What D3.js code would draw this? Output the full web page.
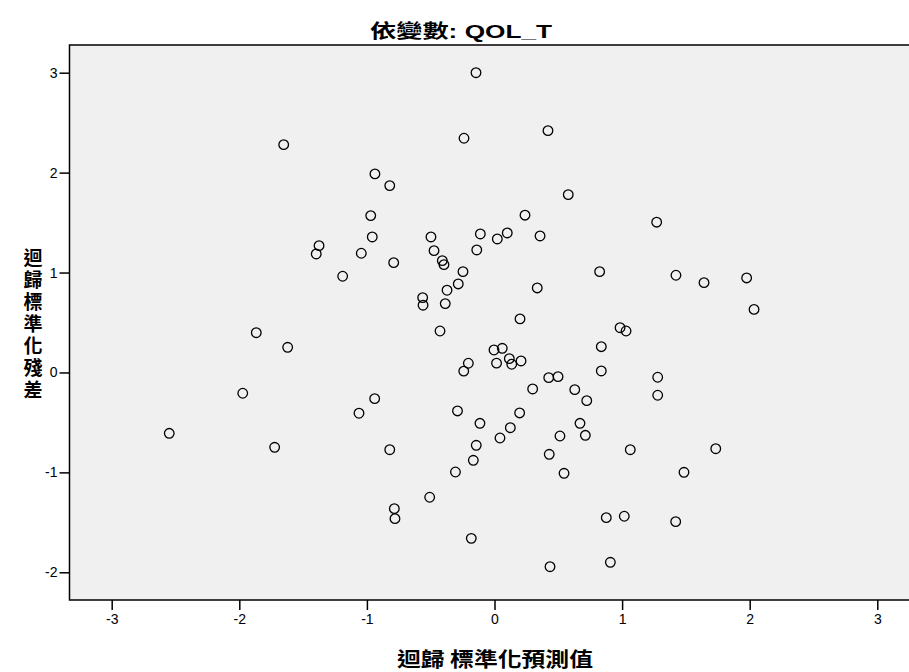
<!DOCTYPE html>
<meta charset="utf-8">
<style>

    body {
        margin: 0;
        background: #fff;
        font-family: "Liberation Sans", Arial, sans-serif;
    }

    .tick line {
        stroke: #000;
        stroke-width: 1.5px;
    }

    .title {
        font-family: "Liberation Sans", "Noto Sans CJK TC", sans-serif;
        font-weight: bold;
        font-size: 19px;
    }

    .axis-title {
        font-family: "Noto Sans CJK TC", serif;
        font-weight: bold;
    }

</style>
<body>
<div id="plotarea"></div>

<script src="https://cdn.jsdelivr.net/npm/d3@7"></script>
<script>

    // regression standardized predicted value
    var predicted = [
        -0.145, -1.652, -0.239, -0.937, -0.821, -0.970, -0.958, -1.375, -1.397, -1.044,
        -1.190, -0.790, -0.498, -0.474, -0.409, -0.396, -0.247, -0.284, -0.372, -0.563,
        -0.560, -0.386, -0.111, -0.139, 0.022, 0.419, 0.578, 0.239, 0.100, 0.357,
        0.824, 0.335, 1.271, 1.422, 1.642, 1.976, 2.034, 0.200, -1.867, -1.621,
        -0.427, -0.004, -0.205, -0.241, 0.016, -1.973, -0.939, -1.062, -0.290, -0.114,
        0.043, -2.549, -1.723, -0.821, -0.143, -0.166, -0.306, -0.508, -0.785, -0.780,
        -0.182, 0.061, 0.116, 0.135, 0.208, 0.984, 1.031, 0.837, 0.837, 1.279,
        1.279, 0.299, 0.425, 0.498, 0.629, 0.723, 0.197, 0.124, 0.670, 0.712,
        0.513, 0.429, 0.545, 1.064, 1.734, 1.485, 0.876, 1.017, 1.420, 0.435,
        0.908
    ];

    // regression standardized residual
    var residual = [
        3.000, 2.280, 2.344, 1.987, 1.870, 1.570, 1.356, 1.269, 1.186, 1.193,
        0.963, 1.099, 1.356, 1.219, 1.119, 1.079, 1.009, 0.886, 0.823, 0.749,
        0.673, 0.689, 1.386, 1.226, 1.336, 2.420, 1.780, 1.574, 1.396, 1.366,
        1.009, 0.846, 1.504, 0.973, 0.899, 0.946, 0.631, 0.536, 0.398, 0.252,
        0.415, 0.225, 0.092, 0.013, 0.093, -0.208, -0.262, -0.408, -0.385, -0.509,
        -0.656, -0.609, -0.749, -0.773, -0.729, -0.879, -0.996, -1.249, -1.363, -1.463,
        -1.660, 0.242, 0.138, 0.082, 0.115, 0.448, 0.415, 0.258, 0.015, -0.048,
        -0.228, -0.165, -0.052, -0.042, -0.172, -0.282, -0.405, -0.553, -0.509, -0.629,
        -0.636, -0.819, -1.009, -0.773, -0.763, -0.999, -1.453, -1.439, -1.493, -1.944,
        -1.900
    ];

    var xTicks = [-3, -2, -1, 0, 1, 2, 3],
        yTicks = [-2, -1, 0, 1, 2, 3];

    var titleText = "依變數: QOL_T",
        xTitle = "迴歸 標準化預測值",
        yTitle = "迴歸標準化殘差";

    var width = 909, height = 672;
    var frame = {left: 69.5, top: 45, right: 925, bottom: 600};

    // plain hyphen for negatives, like the original output
    var fmt = function(d) { return String(d); };

    var x = d3.scaleLinear()
            .domain([-3, 3])
            .range([111.7, 877.3]);

    var y = d3.scaleLinear()
            .domain([-2, 3])
            .range([572.3, 72.7]);

    var svg = d3.select("#plotarea").append("svg")
            .attr("width", width)
            .attr("height", height);

    svg.append("rect")
            .attr("x", frame.left)
            .attr("y", frame.top)
            .attr("width", frame.right - frame.left)
            .attr("height", frame.bottom - frame.top)
            .attr("fill", "#f0f0f0")
            .attr("stroke", "#000")
            .attr("stroke-width", 1.5);

    svg.append("g")
            .attr("transform", "translate(0," + frame.bottom + ")")
            .call(d3.axisBottom(x).tickValues(xTicks).tickFormat(fmt).tickSize(10).tickPadding(4))
            .attr("font-size", 14)
            .attr("font-family", "Liberation Sans, Arial, sans-serif")
            .call(function(g) { g.select(".domain").remove(); });

    svg.append("g")
            .attr("transform", "translate(" + frame.left + ",0)")
            .call(d3.axisLeft(y).tickValues(yTicks).tickFormat(fmt).tickSize(10).tickPadding(2))
            .attr("font-size", 14)
            .attr("font-family", "Liberation Sans, Arial, sans-serif")
            .call(function(g) { g.select(".domain").remove(); });

    svg.append("g")
            .selectAll("circle")
            .data(predicted)
            .enter().append("circle")
            .attr("cx", function(d) { return x(d); })
            .attr("cy", function(d, i) { return y(residual[i]); })
            .attr("r", 4.8)
            .attr("fill", "none")
            .attr("stroke", "#000")
            .attr("stroke-width", 1.3);

    svg.append("text")
            .attr("class", "title")
            .attr("x", 461)
            .attr("y", 38)
            .attr("text-anchor", "middle")
            .attr("textLength", 182)
            .attr("lengthAdjust", "spacingAndGlyphs")
            .text(titleText);

    svg.append("text")
            .attr("class", "axis-title")
            .attr("x", 495)
            .attr("y", 667)
            .attr("text-anchor", "middle")
            .style("font-size", "20px")
            .attr("textLength", 196)
            .attr("lengthAdjust", "spacingAndGlyphs")
            .text(xTitle);

    svg.append("text")
            .attr("class", "axis-title")
            .attr("x", 33)
            .attr("y", 248)
            .style("font-size", "19px")
            .style("writing-mode", "vertical-rl")
            .style("text-orientation", "upright")
            .style("letter-spacing", "3px")
            .text(yTitle);

</script>
